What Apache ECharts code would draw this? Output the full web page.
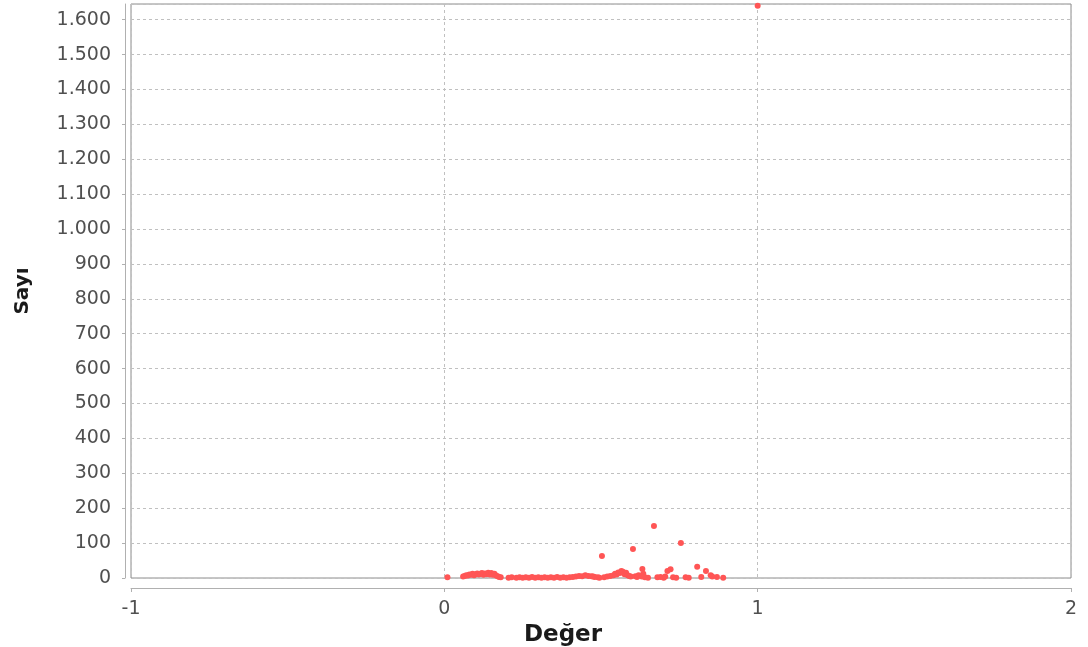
<!DOCTYPE html>
<html>
<head>
<meta charset="utf-8">
<script src="https://cdn.jsdelivr.net/npm/echarts@6/dist/echarts.min.js"></script>
<style>html,body{margin:0;padding:0;background:#fff}#c{width:1088px;height:647px}</style>
</head>
<body>
<div id="c"></div>
<script>
// Değer (x) values
const degerValues = [
  0.01,
  0.06, 0.065, 0.07, 0.075, 0.08, 0.085, 0.09, 0.095, 0.10, 0.105, 0.11, 0.115, 0.12, 0.125,
  0.13, 0.135, 0.14, 0.145, 0.15, 0.155, 0.16, 0.165, 0.17, 0.175, 0.18,
  0.205, 0.215, 0.23, 0.24, 0.25, 0.26, 0.27, 0.28, 0.29, 0.30, 0.31, 0.32, 0.33, 0.34,
  0.35, 0.36, 0.37, 0.38, 0.39, 0.40, 0.41,
  0.42, 0.43, 0.44, 0.45, 0.46, 0.47, 0.475, 0.48, 0.49, 0.495,
  0.503,
  0.51, 0.52, 0.53, 0.54, 0.545, 0.55, 0.555, 0.56, 0.565, 0.57, 0.575, 0.58, 0.585, 0.59, 0.595,
  0.602,
  0.61, 0.615, 0.62, 0.632, 0.63, 0.635, 0.64, 0.65,
  0.669,
  0.68, 0.69, 0.70, 0.705, 0.712, 0.722, 0.73, 0.74,
  0.755,
  0.77, 0.78, 0.807, 0.82, 0.835, 0.85, 0.855, 0.87, 0.89,
  1.0
];
// Sayı (y) values
const sayiValues = [
  2,
  4, 6, 8, 7, 10, 9, 12, 8, 11, 13, 10, 12, 14, 9,
  13, 11, 15, 10, 14, 9, 12, 7, 5, 3, 2,
  1, 2, 1, 2, 1, 2, 1, 3, 1, 2, 1, 2, 1, 2,
  1, 3, 1, 2, 1, 2, 3,
  4, 6, 5, 8, 6, 5, 4, 3, 2, 1,
  63,
  2, 4, 6, 8, 12, 10, 16, 14, 20, 18, 11, 15, 8, 6, 4,
  83,
  5, 3, 8, 26, 4, 12, 2, 1,
  149,
  2, 3, 1, 4, 20, 25, 2, 1,
  100,
  2, 1, 32, 3, 20, 8, 4, 3, 1,
  1640
];
const xTicks = [-1, 0, 1, 2];
const yMin = 0, yMax = 1645, yStep = 100;

const points = degerValues.map((v, i) => [v, sayiValues[i]]);
const fmtTr = v => String(v).replace(/\B(?=(\d{3})+(?!\d))/g, '.');

const chart = echarts.init(document.getElementById('c'), null, {renderer: 'canvas'});
chart.setOption({
  animation: false,
  backgroundColor: '#ffffff',
  grid: {left: 131, right: 17, top: 4, bottom: 69, containLabel: false, outerBoundsMode: 'none',
    show: true, borderColor: '#8c8c8c', borderWidth: 1, backgroundColor: '#ffffff'},
  xAxis: {
    type: 'value', min: xTicks[0], max: xTicks[xTicks.length - 1], interval: 1,
    offset: 10,
    name: 'Değer', nameLocation: 'middle', nameGap: 24,
    nameTextStyle: {fontFamily: 'DejaVu Sans', fontWeight: 'bold', fontSize: 23, color: '#1a1a1a', padding: [0, 76, 0, 0]},
    axisLine: {show: true, onZero: false, lineStyle: {color: '#b0b0b0', width: 1}},
    axisTick: {show: true, inside: false, length: 4, lineStyle: {color: '#b0b0b0'}},
    axisLabel: {fontFamily: 'DejaVu Sans', fontSize: 19, color: '#505050', margin: 12},
    splitLine: {show: true, lineStyle: {color: '#c0c0c0', type: [3, 3], width: 1}}
  },
  yAxis: {
    type: 'value', min: yMin, max: yMax, interval: yStep,
    offset: 6,
    name: 'Sayı', nameLocation: 'middle', nameGap: 92, nameRotate: 90,
    nameTextStyle: {fontFamily: 'DejaVu Sans', fontWeight: 'bold', fontSize: 20, color: '#1a1a1a'},
    axisLine: {show: true, onZero: false, lineStyle: {color: '#b0b0b0', width: 1}},
    axisTick: {show: true, inside: false, length: 3, lineStyle: {color: '#b0b0b0'}},
    axisLabel: {fontFamily: 'DejaVu Sans', fontSize: 19, color: '#505050', margin: 14,
      formatter: v => (v > yMax - 1 ? '' : fmtTr(v)), showMaxLabel: false},
    splitLine: {show: true, lineStyle: {color: '#c0c0c0', type: [3, 3], width: 1}}
  },
  series: [{
    type: 'scatter',
    data: points,
    symbol: 'circle',
    symbolSize: 6,
    itemStyle: {color: '#ff5555', opacity: 1},
    clip: false
  }]
});
</script>
</body>
</html>
